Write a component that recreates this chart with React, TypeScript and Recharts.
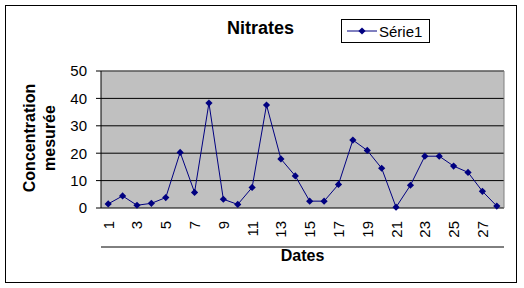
import { LineChart, Line, XAxis, YAxis, CartesianGrid, Legend, ReferenceLine, Label } from 'recharts'

const dates = [1, 2, 3, 4, 5, 6, 7, 8, 9, 10, 11, 12, 13, 14, 15, 16, 17, 18, 19, 20, 21, 22, 23, 24, 25, 26, 27, 28]
const nitrates = [1.5, 4.4, 1, 1.7, 3.8, 20.3, 5.7, 38.3, 3.2, 1.3, 7.5, 37.6, 17.9, 11.7, 2.5, 2.5, 8.6, 24.8, 21, 14.5, 0.3, 8.3, 18.9, 18.9, 15.3, 13, 6.1, 0.7]
const xLabelTicks = [1, 3, 5, 7, 9, 11, 13, 15, 17, 19, 21, 23, 25, 27]
const yTicks = [0, 10, 20, 30, 40, 50]
const seriesName = 'Série1'

const data = dates.map((d, i) => ({ date: d, value: nitrates[i] }))
// Excel puts the tick marks between categories
const boundaryTicks = [...dates.map((d) => d - 0.5), dates[dates.length - 1] + 0.5]

const FONT = '"Liberation Sans", Arial, sans-serif'
const NAVY = '#000080'

const Diamond = (props: any) => {
  const { cx, cy } = props
  if (cx == null || cy == null) return null
  const r = 3.6
  return <path d={`M${cx},${cy - r}L${cx + r},${cy}L${cx},${cy + r}L${cx - r},${cy}Z`} fill={NAVY} stroke="none" />
}

const XTick = (props: any) => {
  const { x, y, payload } = props
  return (
    <text
      transform={`translate(${x},${y}) rotate(-90)`}
      textAnchor="end"
      dominantBaseline="central"
      fontFamily={FONT}
      fontSize={15}
      fill="#000"
    >
      {payload.value}
    </text>
  )
}

const YTitle = () => (
  <g fontFamily={FONT} fontSize={16} fontWeight="bold" fill="#000">
    <text transform="translate(34.5,138) rotate(-90)" textAnchor="middle">Concentration</text>
    <text transform="translate(55,138) rotate(-90)" textAnchor="middle">mesurée</text>
  </g>
)

const LegendBox = () => (
  <div
    style={{
      boxSizing: 'border-box',
      width: 89,
      height: 24,
      border: '1px solid #000',
      background: '#fff',
      display: 'flex',
      alignItems: 'center',
      fontFamily: FONT,
      fontSize: 15,
    }}
  >
    <svg width={36} height={12} style={{ display: 'block' }}>
      <line x1={5} y1={6} x2={35} y2={6} stroke={NAVY} strokeWidth={1} />
      <path d="M20,2.4L23.6,6L20,9.6L16.4,6Z" fill={NAVY} />
    </svg>
    <span style={{ marginLeft: 1 }}>{seriesName}</span>
  </div>
)

export default function App() {
  return (
    <div style={{ position: 'fixed', left: 0, top: 0, width: 524, height: 288, background: '#fff' }}>
      <div
        style={{
          position: 'absolute',
          left: 5,
          top: 5,
          width: 512,
          height: 278,
          boxSizing: 'border-box',
          border: '1px solid #000',
        }}
      />
      <div style={{ position: 'absolute', left: 0, top: 0 }}>
        <LineChart width={524} height={288} data={data} margin={{ top: 71, right: 20, bottom: 40, left: 61 }}>
          <CartesianGrid fill="#C0C0C0" stroke="#000" vertical={false} fillOpacity={1} />
          <XAxis
            xAxisId="b"
            dataKey="date"
            type="number"
            domain={[0.5, 28.5]}
            ticks={boundaryTicks}
            interval={0}
            tick={false}
            tickSize={5}
            tickLine={{ stroke: '#000' }}
            axisLine={{ stroke: '#000' }}
            height={1}
            allowDataOverflow
          />
          <XAxis
            dataKey="date"
            type="number"
            domain={[0.5, 28.5]}
            ticks={xLabelTicks}
            interval={0}
            tick={<XTick />}
            tickLine={false}
            tickSize={5}
            tickMargin={8}
            axisLine={false}
            height={39}
            allowDataOverflow
          >
            <Label
              value="Dates"
              position="insideBottom"
              offset={-14}
              style={{ fontFamily: FONT, fontSize: 16, fontWeight: 'bold', fill: '#000' }}
            />
          </XAxis>
          <YAxis
            domain={[0, 50]}
            ticks={yTicks}
            interval={0}
            width={40}
            tickSize={5}
            tickMargin={9}
            tickLine={{ stroke: '#000' }}
            axisLine={{ stroke: '#000' }}
            tick={{ fontFamily: FONT, fontSize: 15, fill: '#000' }}
          />
          <ReferenceLine y={50} stroke="#808080" />
          <ReferenceLine x={28.5} stroke="#808080" />
          <Line
            dataKey="value"
            name={seriesName}
            stroke={NAVY}
            strokeWidth={1}
            dot={<Diamond />}
            activeDot={false}
            isAnimationActive={false}
          />
          <Legend
            layout="horizontal"
            verticalAlign="middle"
            align="center"
            content={<LegendBox />}
            wrapperStyle={{ position: 'absolute', left: 341, top: 19, width: 89, height: 24 }}
          />
          <text x={260.5} y={34} textAnchor="middle" fontFamily={FONT} fontSize={18} fontWeight="bold" fill="#000">
            Nitrates
          </text>
          <YTitle />
        </LineChart>
      </div>
    </div>
  )
}
